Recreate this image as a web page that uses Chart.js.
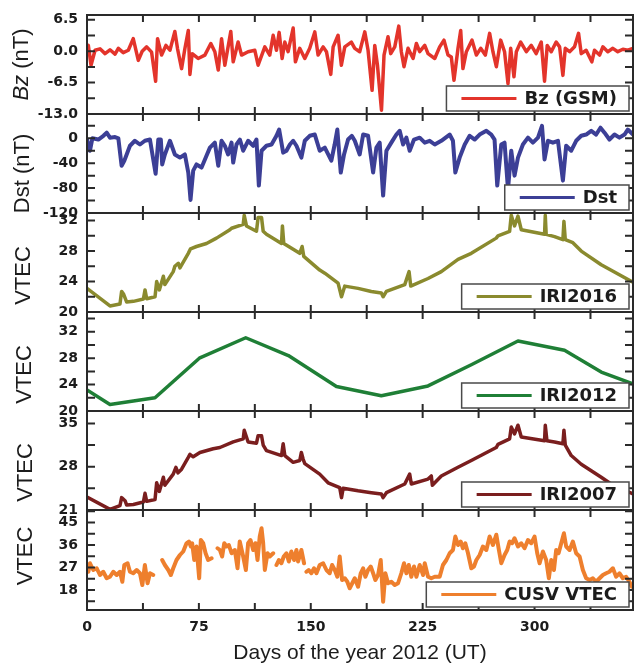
<!DOCTYPE html>
<html>
<head>
<meta charset="utf-8">
<script src="https://cdn.jsdelivr.net/npm/chart.js@4.4.1/dist/chart.umd.min.js"></script>
<style>
  html, body { margin: 0; padding: 0; background: #fff; }
  #figure { position: relative; width: 635px; height: 666px; }
  #figure canvas { position: absolute; left: 0; }
</style>
</head>
<body>
<div id="figure"></div>
<script>
// x axis
const dayTicks = [0, 75, 150, 225, 300];
const xTitle = "Days of the year 2012 (UT)";

// Bz (GSM), nT
const bzDays = [
  0, 0.9, 2.7, 5.4, 8.7, 12.1, 15.4, 18.8, 21, 24.3,
  27.7, 31, 34.4, 37, 40, 43.3, 46, 47.3, 50, 52.9,
  55.6, 58.9, 60.7, 63.4, 65.6, 67.9, 69, 70.5, 74.5, 79,
  83, 85.7, 88, 90.2, 92.4, 96.4, 98, 101.3, 103.6, 108,
  112.5, 114.7, 119.2, 122.5, 124.8, 127, 128.8, 130.8, 132.6, 134.8,
  138.2, 139.7, 142.6, 146, 149.3, 152.7, 154.9, 158.3, 160.5, 163.4,
  165, 168.3, 170.5, 172.8, 177.2, 179.5, 182.8, 186.2, 188.4, 191.1,
  192.9, 194.7, 197.4, 199.1, 201.8, 203.6, 206.3, 209, 210.7, 212.5,
  215.2, 218.6, 220.8, 223, 226.4, 228.6, 233.1, 236.4, 239.3, 242,
  244.2, 246, 248.7, 250.5, 252, 254.3, 258.1, 261, 263.9, 267,
  269.9, 272.1, 274.4, 277.3, 279.9, 282.2, 284, 286.2, 287.8, 290.7,
  294.5, 297.8, 301.1, 304.5, 306.7, 308.5, 311.2, 314.5, 316.8, 319,
  320.6, 323.5, 326.8, 329.5, 331.3, 334.6, 338.4, 340.2, 343.6, 345.8,
  349.1, 352.5, 355.8, 359.2, 362.5, 366
];
const bzValues = [
  1.0, 1.2, -2.9, 0.2, 0.5, -0.5, 0.3, -0.6, 0.6, -0.3,
  0.2, 2.6, -1.9, 0, 0.9, -0.2, -6.2, 2.6, -0.8, 1.2,
  0.2, 4.1, 0.5, -3.6, 0.5, 4.3, -4.8, -0.5, -1.5, -0.8,
  1.6, -0.1, -3.9, 2.6, -2.9, 4.1, -2.2, 1.9, -0.8, -0.1,
  0.2, -2.9, 0.9, -0.8, 3.3, 0.2, 3.9, -1.5, 1.9, -0.1,
  4.8, -2.2, 0.6, -1.5, 0.6, 4.0, -0.8, 0.9, -0.1, -4.8,
  0.9, 3.3, -2.9, 0.9, 1.9, 0.6, -0.1, 4.0, 0.2, -8.1,
  1.2, -2.9, -12.2, -0.8, 3.0, -0.5, 0.9, 5.2, -0.1, -3.2,
  0.6, -1.5, 1.6, -0.1, 1.2, -0.5, -1.5, 0.9, 2.3, -0.8,
  -1.2, -6.0, 0.6, 4.3, -3.6, -0.1, 2.3, -0.8, 0.6, -0.8,
  3.7, -0.1, -3.2, 2.3, -0.1, -6.7, 0.6, -5.3, -0.1, 1.9,
  -0.1, 1.2, -0.5, 1.9, -6.2, 1.2, -0.1, 1.9, 0.9, -5.0,
  0.6, -0.1, 0.9, 3.7, -0.5, 0.2, -2.2, 0.2, -0.8, 0.9,
  -0.1, 0.6, -0.1, 0.4, 0.2, 0.6
];
const bzTicks = [-13, -6.5, 0, 6.5];

// Dst, nT
const dstDays = [
  0, 2, 3.6, 7.6, 11, 13.2, 15.4, 18.8, 21, 23.2,
  25, 26.6, 28.8, 32.1, 35.5, 38.8, 42.2, 46, 47.8, 49.5,
  50.4, 52.2, 55.6, 58.9, 62.3, 65.6, 67.9, 69.4, 71.2, 73.4,
  76.8, 80.1, 82.4, 85.7, 88, 90.2, 92.4, 94.6, 96.9, 98,
  100.2, 102.5, 104.7, 108, 111.4, 113.6, 115.2, 117, 120.3, 123.7,
  127, 128.8, 131.5, 133.7, 136, 138.2, 140.4, 143.7, 146, 149.3,
  152.7, 156, 159.4, 163.8, 166, 167.8, 170.1, 172.3, 175, 177.5,
  179.5, 182.8, 185.1, 188.4, 191.8, 194, 196.2, 198.5, 200.7, 204,
  207.4, 209.6, 211.9, 214.1, 216.3, 219.2, 223, 226.4, 229.7, 233.1,
  237.5, 243.1, 245.3, 246.9, 249.8, 253.2, 256.5, 259.9, 263.2, 267.7,
  271, 273.2, 275, 277.7, 279.9, 282.2, 284.4, 286.6, 288.9, 292.2,
  295.6, 298.9, 302.3, 305, 306.7, 309, 312.3, 315.7, 319, 321.2,
  324.6, 327.9, 331.3, 334.6, 338, 341.3, 344.2, 346.9, 350.2, 353.6,
  356.9, 360.3, 362.5, 366
];
const dstValues = [
  -2, -20, 0, -2, 4, 9, 1, 2, 0, -44,
  -36, -26, -12, -4, -10, -4, -2, -57, -2, -2,
  -42, -26, -4, -26, -31, -26, -55, -99, -52, -42,
  -47, -28, -15, -7, -44, -4, -12, -26, -7, -39,
  -10, -2, -20, -4, -12, -2, -76, -20, -12, -10,
  4, 14, -23, -20, -10, -4, -12, -31, -4, 4,
  6, -20, -15, -36, -10, 14, -55, -26, -2, 4,
  -4, -26, 6, 4, -55, -15, -7, -92, -20, -7,
  6, 12, -10, 1, -20, -2, 1, -7, -4, -10,
  -4, 6, -4, -55, -31, -10, 4, -2, 6, 12,
  6, -2, -76, -10, -7, -82, -20, -60, -31, -10,
  1, -7, 1, 20, -34, -4, -7, -4, -68, -12,
  -20, -4, 4, 6, 12, 6, 17, 9, -2, 6,
  1, 6, 14, 6
];
const dstTicks = [-120, -80, -40, 0];

// IRI2016 VTEC
const iri2016Days = [
  0, 15.4, 22.1, 23.2, 24.4, 26.6, 31.1, 37.8, 38.9, 40,
  45.6, 46.7, 48.5, 51.2, 52.2, 57.8, 58.9, 61.2, 62.3, 67.9,
  69.4, 73.4, 80.1, 86.8, 95.8, 96.9, 104.7, 105.4, 106.9, 113.6,
  114.7, 117, 118.1, 120.3, 130.4, 131, 131.9, 142.6, 144.2, 145.3,
  156, 159.4, 168.3, 170.6, 172.8, 181.7, 190.6, 197.3, 198.5, 200.7,
  213, 215.9, 217, 228.6, 237.5, 248.7, 257.6, 274.3, 275.5, 283.3,
  284.4, 286.6, 288.9, 291.1, 306.7, 307.2, 307.8, 313.4, 319, 319.7,
  320.6, 325.7, 331.3, 344.7, 366
];
const iri2016Values = [
  23.1, 20.8, 21.05, 22.7, 22.4, 21.3, 21.4, 21.7, 22.9, 21.75,
  22.0, 24.0, 22.9, 24.7, 23.6, 25.3, 26.0, 26.4, 25.8, 27.7,
  28.3, 28.6, 29.0, 29.7, 30.8, 31.0, 31.5, 32.7, 31.3, 30.6,
  32.4, 32.4, 30.6, 30.2, 29.0, 31.3, 29.0, 27.7, 28.6, 27.3,
  25.5, 25.1, 23.8, 22.0, 23.4, 23.1, 22.7, 22.5, 22.0, 22.7,
  23.6, 25.3, 23.4, 24.4, 25.3, 26.9, 27.7, 29.7, 30.0, 30.6,
  32.7, 31.3, 32.6, 30.8, 30.2, 32.7, 30.2, 29.9, 29.5, 31.9,
  29.5, 29.1, 28.0, 26.2, 23.9
];
const iri2016Ticks = [20, 24, 28, 32];

// IRI2012 VTEC
const iri2012Days = [0, 15.4, 45.6, 75.3, 106.4, 135, 167.2, 197.3, 228.6, 257.6, 288.9, 320.1, 344.7, 366];
const iri2012Values = [23.2, 21.0, 22.0, 28.0, 31.1, 28.4, 23.7, 22.3, 23.8, 27.0, 30.6, 29.2, 25.9, 24.1];
const iri2012Ticks = [20, 24, 28, 32];

// IRI2007 VTEC
const iri2007Days = [
  0, 15.4, 22.1, 23.2, 25.5, 26.6, 31.1, 37.8, 38.9, 40,
  45.6, 46.7, 48.5, 51.2, 52.2, 57.8, 59.6, 61, 63.4, 67.9,
  69, 71.2, 75.7, 84.6, 89.1, 98, 104.7, 105.4, 108, 113.6,
  114.7, 117, 118.1, 120.3, 130.4, 131.5, 132.6, 138.2, 142.6, 143.7,
  144.9, 146, 156, 161.6, 169.4, 170.6, 171.7, 181.7, 190.6, 197.3,
  198.5, 200.7, 213, 216.3, 217.4, 228.6, 230.8, 231.5, 237.5, 248.7,
  257.6, 274.3, 275.5, 283.3, 284.4, 286.6, 288.9, 291.1, 306.7, 307.2,
  308.3, 313.4, 319, 319.7, 320.6, 324.6, 331.3, 344.7, 351.3, 366
];
const iri2007Values = [
  23.1, 21.1, 21.7, 23.0, 22.5, 21.8, 21.9, 22.3, 23.7, 22.4,
  22.7, 25.4, 24.0, 26.3, 25.0, 26.8, 27.9, 27.0, 27.6, 29.5,
  30.0, 29.6, 30.3, 30.9, 31.1, 32.0, 32.5, 33.9, 32.0, 31.8,
  33.0, 33.0, 31.5, 30.6, 29.8, 31.7, 29.8, 28.7, 29.0, 30.3,
  29.2, 28.5, 26.8, 25.4, 24.6, 23.0, 24.5, 24.1, 23.8, 23.6,
  23.0, 23.8, 25.2, 26.8, 25.2, 26.0, 26.5, 25.0, 26.5, 27.9,
  29.0, 31.1, 31.6, 32.5, 34.4, 33.3, 34.7, 32.8, 32.2, 34.7,
  32.2, 32.0, 31.7, 33.9, 31.5, 29.8, 28.4, 26.3, 25.2, 23.6
];
const iri2007Ticks = [21, 28, 35];

// CUSV VTEC (null = no data)
const cusvDays = [
  0, 0.9, 2, 4.2, 6.5, 8.7, 10.9, 13.2, 15.4, 17.6,
  19.9, 22.1, 23.7, 25, 27.2, 28.8, 31, 33.3, 35.5, 37.1,
  38.8, 40.6, 42.2, 44.4, 47, 50.4, 52.2, 54.5, 56.2, 57.8,
  60, 62.3, 64.5, 66.7, 68.3, 69.6, 70.5, 71.9, 73.4, 75.2,
  76.3, 77.9, 79.5, 81.2, 83.5, 85, 87.5, 89.1, 90.6, 92,
  93.5, 95.1, 96.9, 99.1, 100.9, 102.4, 104.7, 106.5, 108, 109.6,
  111.4, 112.9, 114.3, 115.8, 117, 118.1, 119.2, 121, 122.5, 124.8,
  126, 127, 128.6, 130.3, 131.9, 133.7, 135.3, 137, 138.8, 140.4,
  141.5, 143.7, 145.5, 146.3, 147.1, 148.6, 150.4, 152.2, 153.8, 156,
  158.3, 160.5, 162.7, 164.3, 166.1, 167.8, 169.4, 171, 172.8, 174.5,
  176.1, 178.3, 179.5, 181.7, 183.5, 185.1, 186.6, 188.4, 190.2, 191.8,
  193.3, 195.1, 196.9, 198.5, 200, 201.8, 204, 206.3, 208.5, 210.7,
  212.5, 214.1, 215.7, 217.4, 219.2, 220.8, 223, 225.3, 226.4, 228.6,
  230.8, 233.1, 236.4, 238.6, 240.9, 243.1, 245.3, 246.9, 248.7, 250.5,
  252, 253.6, 255.4, 257.6, 259.4, 261, 263.2, 265.4, 267.7, 269.9,
  272.1, 274.4, 275.9, 277.7, 279.9, 281.7, 283.3, 284.9, 286.6, 288.9,
  291.1, 293.3, 295.6, 297.8, 300, 301.8, 303.4, 305.6, 307.8, 309.6,
  311.2, 313, 314.5, 316.1, 317.9, 319.7, 321.2, 323.5, 325.7, 327.9,
  330.2, 332.4, 334.6, 336.9, 339.1, 341.3, 343.6, 345.8, 348, 350.2,
  352.5, 354.7, 356.9, 359.2, 361.4, 363.6, 365.2
];
const cusvValues = [
  28.0, 25.3, 28.7, 26.0, 26.7, 24.0, 25.3, 22.7, 23.3, 25.3,
  24.0, 25.3, 21.3, 28.0, 28.7, 25.3, 24.7, 26.0, 24.7, 20.0,
  28.0, 20.7, 24.7, 24.0, null, 30.0, 28.0, 26.0, 24.0, 26.7,
  30.0, 32.0, 33.4, 36.7, 37.4, 35.4, 36.7, 30.0, 35.4, 22.7,
  38.0, 36.7, 32.7, 30.0, 30.7, null, 34.7, 34.0, 31.4, 36.7,
  35.4, 36.0, 32.7, 34.0, 26.7, 37.4, 31.4, 26.0, 36.7, 38.0,
  34.0, 36.7, 30.0, 39.4, 42.7, 36.7, 26.0, 32.7, 31.4, 32.7,
  null, 28.0, 30.0, 28.7, 31.4, 32.7, 29.4, 33.4, 30.0, 34.0,
  29.4, 34.0, 28.7, null, 25.3, 26.0, 24.7, 26.7, 24.7, 28.0,
  28.7, 26.0, 24.7, 28.0, 26.0, 23.3, 31.4, 22.0, 22.7, 21.3,
  18.7, 21.3, 22.7, 19.3, 24.7, 26.7, 23.3, 26.0, 27.4, 24.7,
  22.0, 24.0, 30.0, 13.3, 24.7, 20.7, 21.3, 20.0, 20.7, 24.7,
  28.7, 24.7, 28.0, 23.3, 27.4, 23.3, 28.0, 24.0, 28.7, 23.3,
  22.7, 23.3, 23.3, 28.0, 30.0, 32.7, 34.0, 39.4, 36.0, 37.4,
  34.7, 36.7, 32.7, 26.7, 27.4, 30.0, 32.0, 35.4, 34.0, 39.4,
  36.0, 40.1, 34.7, 28.7, 32.0, 34.0, 37.4, 36.7, 38.7, 35.4,
  36.7, 34.7, 38.0, 36.7, 39.4, 32.7, 28.7, 33.4, 30.0, 22.7,
  30.0, 26.0, 34.0, 32.7, 36.7, 40.7, 35.4, 34.0, 37.4, 32.7,
  31.4, 26.0, 22.7, 22.0, 22.7, 21.3, 22.7, 24.0, 24.7, 25.3,
  26.7, 23.3, 24.7, 22.7, 23.3, 21.3, 19.3
];
const cusvTicks = [18, 27, 36, 45];

const figure = document.getElementById("figure");
const panelTops = [15, 114, 213, 312, 411, 510];
const panelBottom = 610;

const panels = [
  { days: bzDays, values: bzValues, ticks: bzTicks, min: -13, max: 7.5, step: 3.25, digits: 1,
    label: "Bz (GSM)", color: "#e3342b", width: 3.5, title: [["Bz", true], [" (nT)", false]], titleX: 22, titleShift: 0 },
  { days: dstDays, values: dstValues, ticks: dstTicks, min: -120, max: 39, step: 20, digits: 0,
    label: "Dst", color: "#3c3f96", width: 4, title: [["Dst (nT)", false]], titleX: 23, titleShift: 10 },
  { days: iri2016Days, values: iri2016Values, ticks: iri2016Ticks, min: 20, max: 33, step: 2, digits: 0,
    label: "IRI2016", color: "#8a8a2e", width: 3.5, title: [["VTEC", false]], titleX: 24, titleShift: 13 },
  { days: iri2012Days, values: iri2012Values, ticks: iri2012Ticks, min: 20, max: 35, step: 2, digits: 0,
    label: "IRI2012", color: "#1f7f36", width: 3.5, title: [["VTEC", false]], titleX: 25, titleShift: 13 },
  { days: iri2007Days, values: iri2007Values, ticks: iri2007Ticks, min: 21, max: 37, step: 3.5, digits: 0,
    label: "IRI2007", color: "#7a1e1e", width: 3.5, title: [["VTEC", false]], titleX: 26, titleShift: 12 },
  { days: cusvDays, values: cusvValues, ticks: cusvTicks, min: 10, max: 50, step: 4.5, digits: 0,
    label: "CUSV VTEC", color: "#ee7f2d", width: 4, title: [["VTEC", false]], titleX: 26, titleShift: -4 }
];

const inkColor = "#1c1c1c";
const tickFont = { family: "DejaVu Sans", size: 14, weight: "bold" };

// frame, inward ticks, rotated y title and boxed legend for one panel
const framePlugin = {
  id: "frame",
  afterDatasetsDraw(chart, args, opts) {
    const { ctx, chartArea: a, scales: { x, y } } = chart;
    ctx.save();
    ctx.strokeStyle = "#2a2a2a";
    ctx.lineWidth = 2;
    ctx.beginPath();
    for (let d = 0; d < x.max; d += 37.5) {
      const px = x.getPixelForValue(d);
      ctx.moveTo(px, a.bottom); ctx.lineTo(px, a.bottom - 7);
      ctx.moveTo(px, a.top); ctx.lineTo(px, a.top + 7);
    }
    for (let k = -20; k <= 20; k++) {
      const v = opts.ticks[0] + k * opts.step;
      if (v < y.min - 1e-6 || v > y.max + 1e-6) continue;
      const py = y.getPixelForValue(v);
      ctx.moveTo(a.left, py); ctx.lineTo(a.left + 8, py);
      ctx.moveTo(a.right, py); ctx.lineTo(a.right - 8, py);
    }
    ctx.stroke();
    ctx.strokeRect(a.left, a.top, a.right - a.left, a.bottom - a.top);

    // y title
    ctx.save();
    ctx.translate(opts.titleX, (a.top + a.bottom) / 2 + opts.titleShift);
    ctx.rotate(-Math.PI / 2);
    ctx.fillStyle = inkColor;
    ctx.textBaseline = "middle";
    ctx.textAlign = "left";
    const fonts = opts.title.map(p => (p[1] ? "italic " : "") + "22px 'Liberation Sans'");
    let total = 0;
    opts.title.forEach((p, i) => { ctx.font = fonts[i]; total += ctx.measureText(p[0]).width; });
    let tx = -total / 2;
    opts.title.forEach((p, i) => {
      ctx.font = fonts[i];
      ctx.fillText(p[0], tx, 0);
      tx += ctx.measureText(p[0]).width;
    });
    ctx.restore();

    // legend
    ctx.font = "bold 18px 'DejaVu Sans'";
    const tw = ctx.measureText(opts.label).width;
    const h = 25, w = 15 + 55 + 8 + tw + 12;
    const bx = a.right - 4 - w, by = a.bottom - 3 - h;
    ctx.fillStyle = "#fff";
    ctx.fillRect(bx, by, w, h);
    ctx.lineWidth = 1.5;
    ctx.strokeStyle = "#4a4a4a";
    ctx.strokeRect(bx, by, w, h);
    ctx.beginPath();
    ctx.strokeStyle = opts.color;
    ctx.lineWidth = 3;
    ctx.moveTo(bx + 15, by + h / 2);
    ctx.lineTo(bx + 70, by + h / 2);
    ctx.stroke();
    ctx.fillStyle = inkColor;
    ctx.textBaseline = "middle";
    ctx.fillText(opts.label, bx + 78, by + h / 2 + 1);
    ctx.restore();
  }
};

panels.forEach((p, i) => {
  const last = i === panels.length - 1;
  const top = panelTops[i];
  const bottom = last ? panelBottom : panelTops[i + 1];
  const canvasTop = top - 10;
  const canvas = document.createElement("canvas");
  canvas.width = 635;
  canvas.height = last ? 666 - canvasTop : bottom - top + 20;
  canvas.style.top = canvasTop + "px";
  figure.appendChild(canvas);

  const points = p.days.map((d, k) => ({ x: d, y: p.values[k] }));

  new Chart(canvas, {
    type: "line",
    data: {
      datasets: [{
        data: points,
        borderColor: p.color,
        borderWidth: p.width,
        borderJoinStyle: "round",
        borderCapStyle: "round",
        pointRadius: 0,
        tension: 0,
        spanGaps: false
      }]
    },
    options: {
      responsive: false,
      animation: false,
      events: [],
      layout: { padding: { top: 10, bottom: last ? 0 : 10, left: 0, right: 2 } },
      plugins: {
        legend: { display: false },
        tooltip: { enabled: false },
        frame: { ticks: p.ticks, step: p.step, label: p.label, color: p.color,
                 title: p.title, titleX: p.titleX, titleShift: p.titleShift }
      },
      scales: {
        x: {
          type: "linear",
          min: 0,
          max: 366,
          display: last,
          grid: { display: false, drawTicks: false },
          border: { display: false },
          afterBuildTicks: s => { s.ticks = dayTicks.map(v => ({ value: v })); },
          afterFit: s => {
            s.paddingLeft = 0; s.paddingRight = 0;
            if (last) s.height = 56;
          },
          ticks: { padding: 9, font: tickFont, color: inkColor, maxRotation: 0, autoSkip: false },
          title: { display: true, text: xTitle, color: inkColor, padding: 0,
                   font: { family: "Liberation Sans", size: 21 } }
        },
        y: {
          min: p.min,
          max: p.max,
          grid: { display: false, drawTicks: false },
          border: { display: false },
          afterBuildTicks: s => { s.ticks = p.ticks.map(v => ({ value: v })); },
          afterFit: s => {
            s.width = 87;
            s.paddingTop = 0; s.paddingBottom = 0;
          },
          ticks: { padding: 9, font: tickFont, color: inkColor, autoSkip: false,
                   callback: v => Number(v).toFixed(p.digits) }
        }
      }
    },
    plugins: [framePlugin]
  });
});
</script>
</body>
</html>
